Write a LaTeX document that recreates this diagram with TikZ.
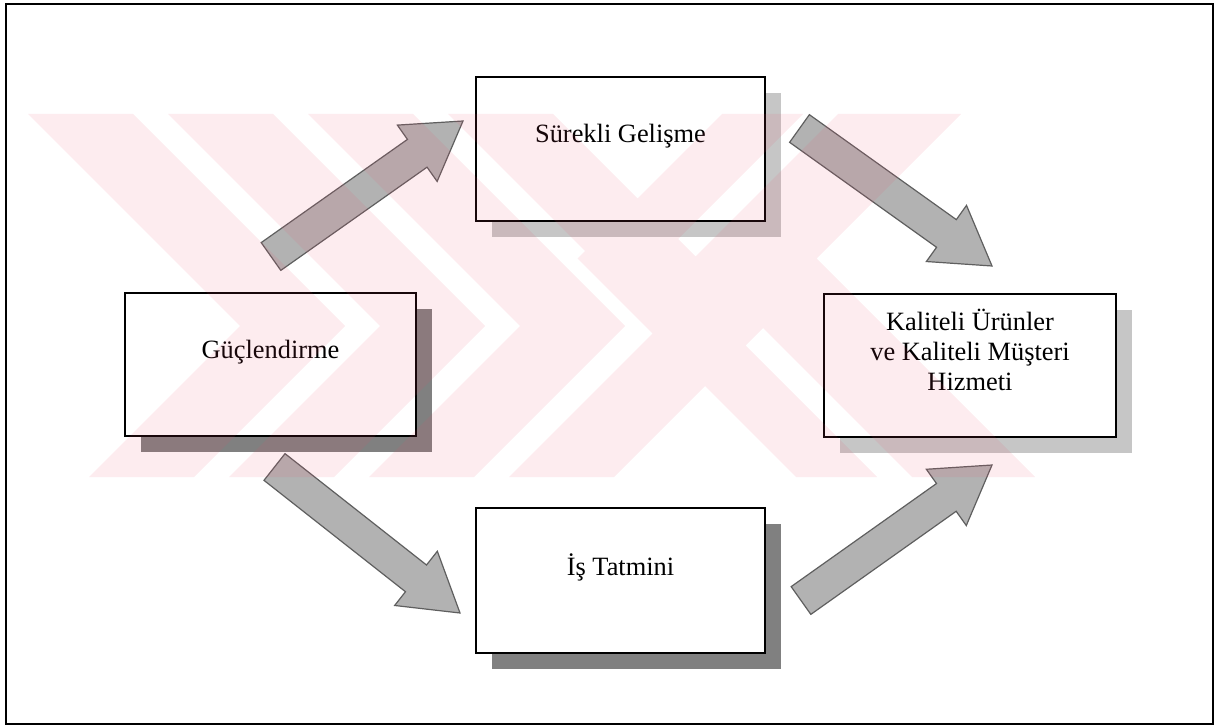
\documentclass[tikz,border=0pt]{standalone}
\usepackage{fontspec}
\setmainfont{Liberation Serif}
\usetikzlibrary{calc,shadows}

\definecolor{shadowdark}{RGB}{128,128,128}
\definecolor{shadowlight}{RGB}{198,198,198}
\definecolor{arrowfill}{RGB}{178,178,178}
\definecolor{arrowline}{RGB}{95,95,95}
\definecolor{markpink}{RGB}{238,72,105}

% block arrow from #1 (tail) to #2 (tip)
\newcommand\flowarrow[2]{%
  \coordinate (#2-h) at ($(#2)!28pt!(#1)$);
  \filldraw[blockarrow]
    ($(#1)!8.5pt!90:(#2)$) -- ($(#2-h)!8.5pt!-90:(#1)$) --
    ($(#2-h)!17.25pt!-90:(#1)$) -- (#2) --
    ($(#2-h)!17.25pt!90:(#1)$) -- ($(#2-h)!8.5pt!90:(#1)$) --
    ($(#1)!8.5pt!-90:(#2)$) -- cycle;
}

\begin{document}
\begin{tikzpicture}[x=0.5pt,y=-0.5pt,
  box/.style={rectangle,draw=black,line width=1.1pt,fill=white,inner sep=0pt},
  darkshadow/.style={drop shadow={shadow xshift=8pt,shadow yshift=-8pt,fill=shadowdark,opacity=1}},
  lightshadow/.style={drop shadow={shadow xshift=8pt,shadow yshift=-8pt,fill=shadowlight,opacity=1}},
  txt/.style={inner sep=0pt,anchor=base,align=center,font=\fontsize{13.2}{15}\selectfont},
  blockarrow/.style={fill=arrowfill,draw=arrowline,line width=0.6pt,line join=miter},
  stripe/.style={fill=markpink,fill opacity=0.10,draw=none,nonzero rule}]

\useasboundingbox (0,0) rectangle (1230,727);
\fill[white] (0,0) rectangle (1230,727);

% outer frame
\draw[line width=1pt] (6,4) rectangle (1213,724);

% boxes
\node[box,lightshadow,minimum width=144.5pt,minimum height=72pt] (sur) at (620.5,149) {};
\node[box,darkshadow,minimum width=145.5pt,minimum height=71.5pt] (guc) at (270.5,364.5) {};
\node[box,lightshadow,minimum width=146pt,minimum height=71.5pt] (kal) at (970,365.5) {};
\node[box,darkshadow,minimum width=144.5pt,minimum height=72.5pt] (is) at (620.5,580.5) {};

% labels
\node[txt] (sur-t) at (620.5,143) {Sürekli Gelişme};
\node[txt] (guc-t) at (270.5,358.5) {Güçlendirme};
\node[txt] (kal-t) at (970,390) {Kaliteli Ürünler\\ve Kaliteli Müşteri\\Hizmeti};
\node[txt] (is-t) at (620.5,575) {İş Tatmini};

% arrow ends
\coordinate (a1s) at (271,256.5);   \coordinate (a1e) at (463,121);
\coordinate (a2s) at (799.5,128.5); \coordinate (a2e) at (992,266);
\coordinate (a3s) at (274.5,467);   \coordinate (a3e) at (460,613);
\coordinate (a4s) at (801,600.5);   \coordinate (a4e) at (992,465);

\flowarrow{a1s}{a1e}
\flowarrow{a2s}{a2e}
\flowarrow{a3s}{a3e}
\flowarrow{a4s}{a4e}

% striped emblem laid over the page, filled as one path
\begin{scope}
  \clip (20,114) rectangle (1100,477);
  \fill[stripe]
    (28,114) -- (133,114) -- (345,326) -- (194,477) -- (89,477) -- (240,326) -- cycle
    (168,114) -- (273,114) -- (485,326) -- (334,477) -- (229,477) -- (380,326) -- cycle
    (308,114) -- (413,114) -- (625,326) -- (474,477) -- (369,477) -- (520,326) -- cycle
    (448,114) -- (553,114) -- (765,326) -- (614,477) -- (509,477) -- (660,326) -- cycle
    (838,114) -- (961,114) -- (816.5,258.5) -- (1035,477) -- (912,477) -- (693.5,258.5) -- cycle
    (722,114) -- (803,114) -- (658.5,258.5) -- (877,477) -- (796,477) -- (577.5,258.5) -- cycle;
\end{scope}
\end{tikzpicture}
\end{document}
